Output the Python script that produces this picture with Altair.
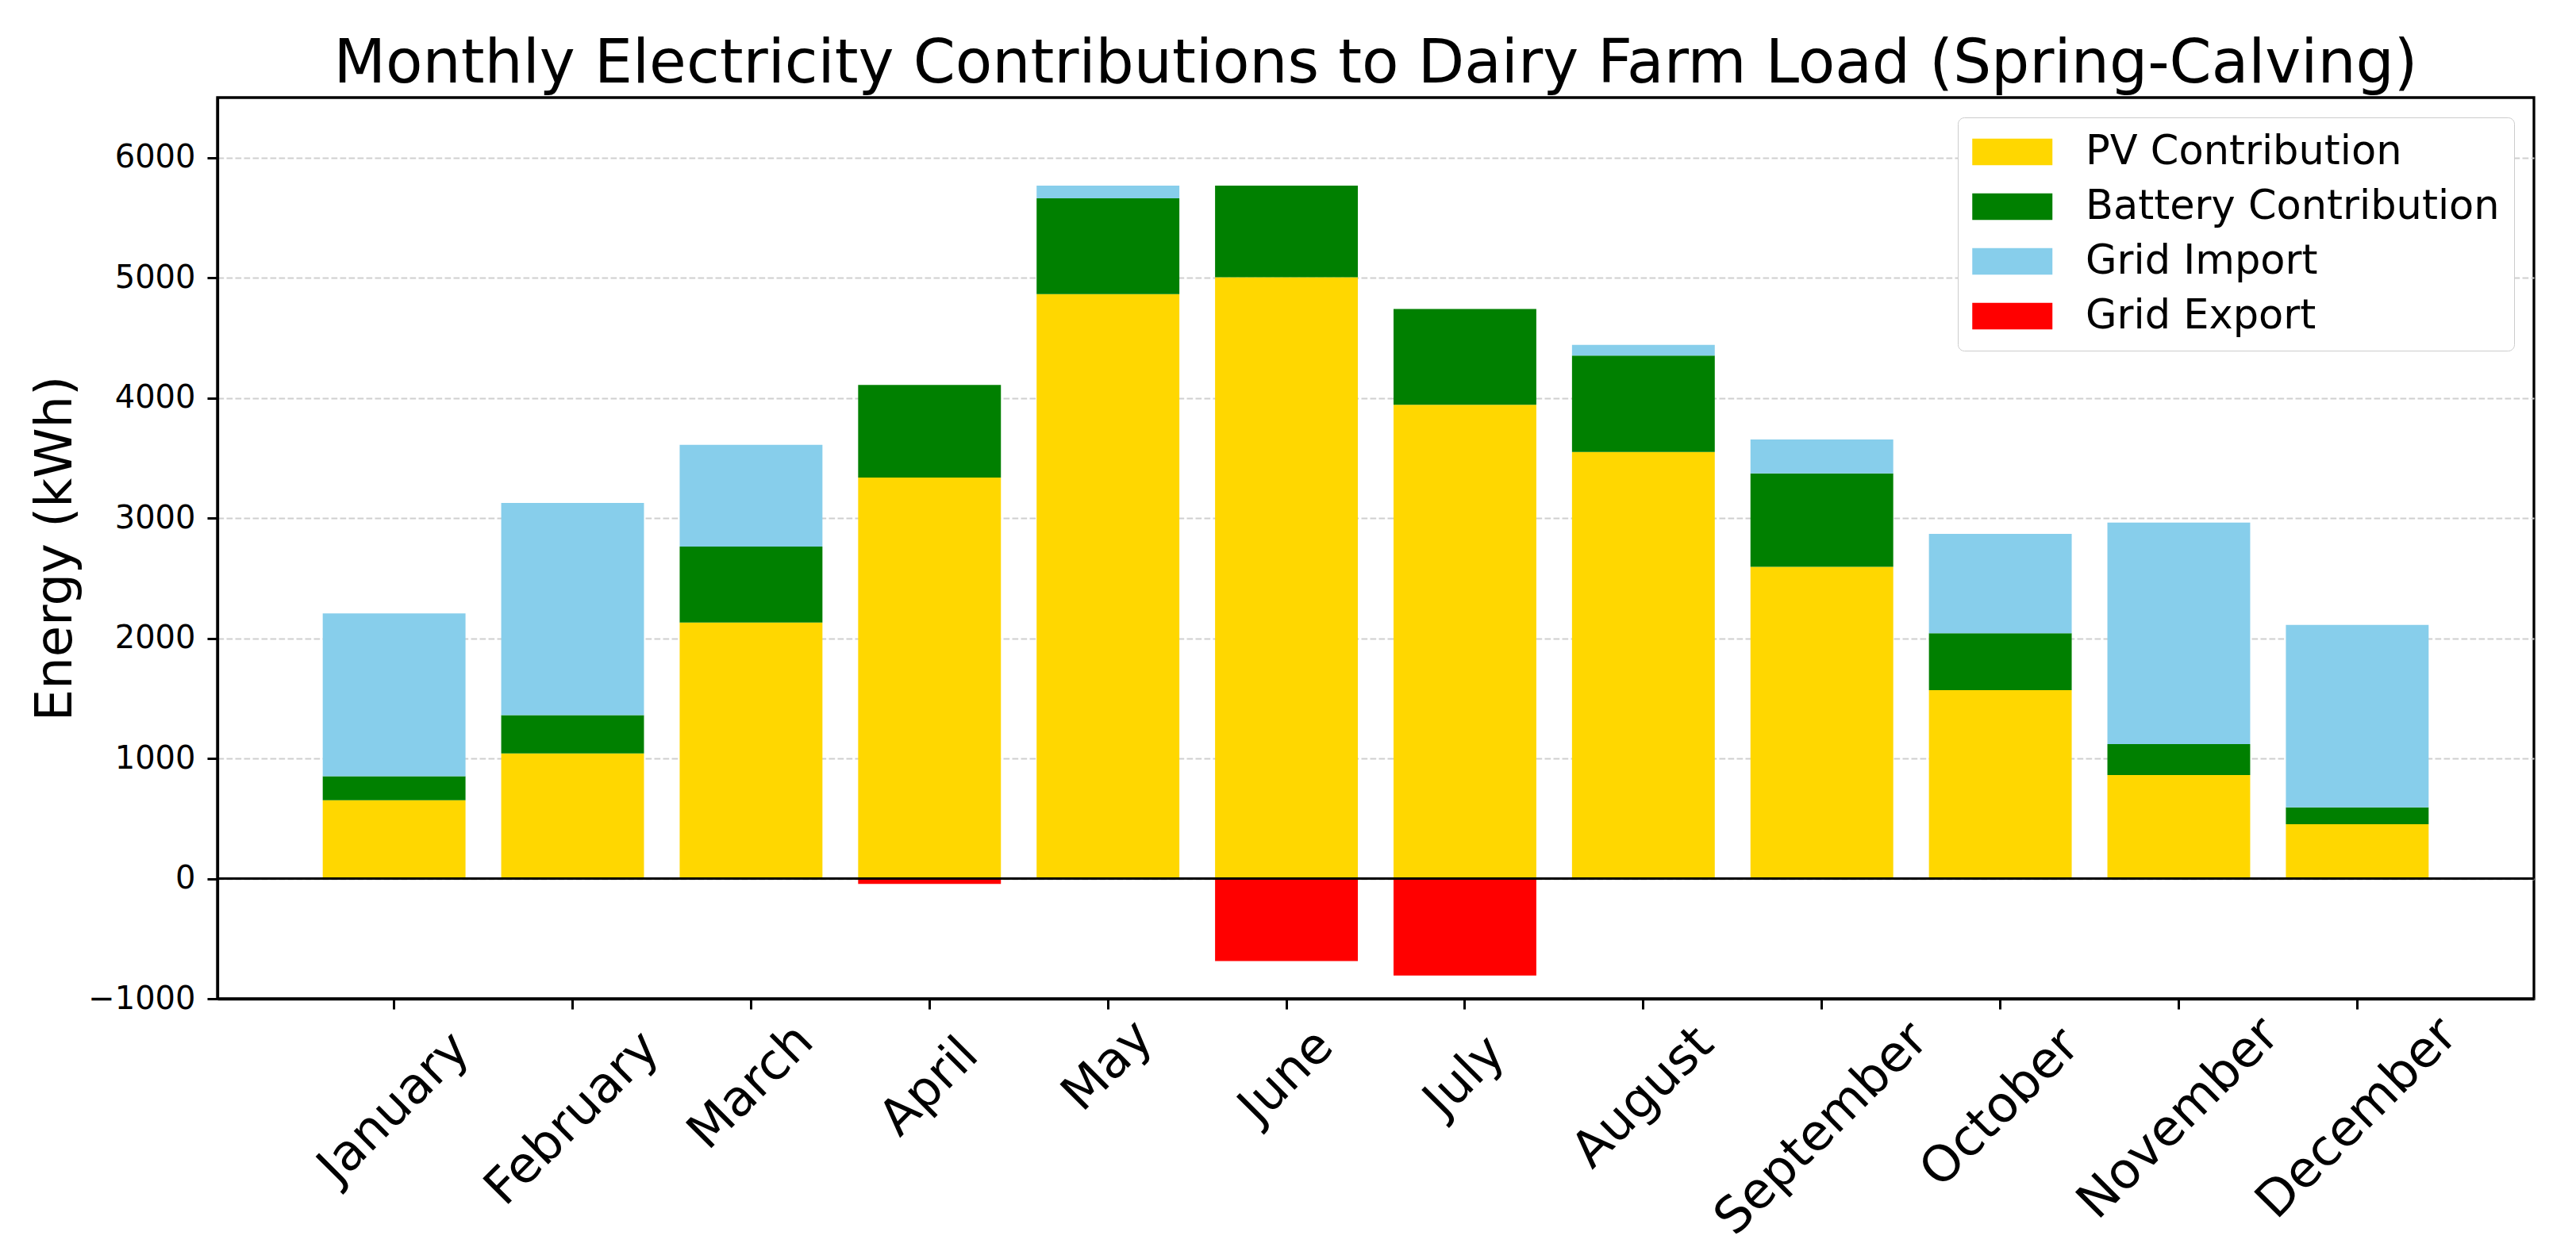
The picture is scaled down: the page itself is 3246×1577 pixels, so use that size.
import pandas as pd
import altair as alt

months = ["January", "February", "March", "April", "May", "June",
          "July", "August", "September", "October", "November", "December"]

# kWh per month
pv = [652, 1041, 2131, 3337, 4865, 5005, 3944, 3551, 2595, 1569, 862, 453]
battery = [200, 319, 633, 771, 797, 762, 797, 802, 777, 473, 258, 140]
grid_import = [1355, 1767, 846, 0, 105, 0, 0, 89, 283, 827, 1843, 1519]
grid_export = [0, 0, 0, -45, 0, -687, -807, 0, 0, 0, 0, 0]

sources = ["PV Contribution", "Battery Contribution", "Grid Import", "Grid Export"]
colors = ["#FFD700", "#008000", "#87CEEB", "#FF0000"]
y_ticks = [-1000, 0, 1000, 2000, 3000, 4000, 5000, 6000]

rows = []
for k, (name, series) in enumerate(zip(sources, [pv, battery, grid_import, grid_export])):
    for m, v in zip(months, series):
        rows.append({"month": m, "source": name, "energy": v, "order": k})
df = pd.DataFrame(rows)

FONT = "DejaVu Sans"
# wide swatch like matplotlib's legend patches; drawn to the right of the symbol slot
swatch = "M-1,-0.66 H3 V0.66 H-1 Z"

bars = alt.Chart(df).mark_bar(strokeWidth=0).encode(
    x=alt.X("month:N", sort=months, title=None,
            scale=alt.Scale(paddingInner=0.2, paddingOuter=0.59),
            axis=alt.Axis(labelAngle=-45, labelAlign="center", labelBaseline="middle",
                          labelFontSize=63, labelPadding={"expr": "32 + 13.2 * length(datum.label)"},
                          tickSize=13, labelLimit=0)),
    y=alt.Y("energy:Q", stack="zero", title="Energy (kWh)",
            scale=alt.Scale(domain=[-1000, 6500], nice=False, zero=False),
            axis=alt.Axis(values=y_ticks, format="d", grid=True, labelFontSize=40,
                          tickSize=13, labelPadding=15, titlePadding=8,
                          titleFontSize=64)),
    color=alt.Color("source:N", scale=alt.Scale(domain=sources, range=colors),
                    legend=alt.Legend(title=None, orient="top-right", offset=25,
                                      symbolType=swatch, symbolSize=2550,
                                      symbolStrokeWidth=0, symbolOpacity=1,
                                      labelFontSize=51, labelFont=FONT, labelColor="black",
                                      labelOffset=92, labelLimit=0, rowPadding=17,
                                      padding=18, cornerRadius=8,
                                      strokeColor="#cccccc", fillColor="white")),
    order=alt.Order("order:Q"),
)

zero_line = alt.Chart(df).mark_rule(color="black", strokeWidth=2.5).encode(
    y=alt.datum(0)
)

chart = alt.layer(bars, zero_line).properties(
    width=2919,
    height=1136,
    padding={"left": 30, "top": 35, "right": 20, "bottom": 20},
    title=alt.TitleParams(
        "Monthly Electricity Contributions to Dairy Farm Load (Spring-Calving)",
        fontSize=76, font=FONT, fontWeight="normal", color="black",
        anchor="middle", frame="group", offset=3),
).configure_view(
    stroke="black", strokeWidth=3.3
).configure_axis(
    labelFont=FONT, titleFont=FONT, labelColor="black", titleColor="black",
    titleFontWeight="normal", domainColor="black", domainWidth=3.3,
    tickColor="black", tickWidth=3, gridColor="#cfcfcf", gridWidth=2,
    gridDash=[7.7, 3.3]
).configure_axisX(grid=False)

chart.save("out.html", embed_options={"renderer": "svg", "actions": False})
